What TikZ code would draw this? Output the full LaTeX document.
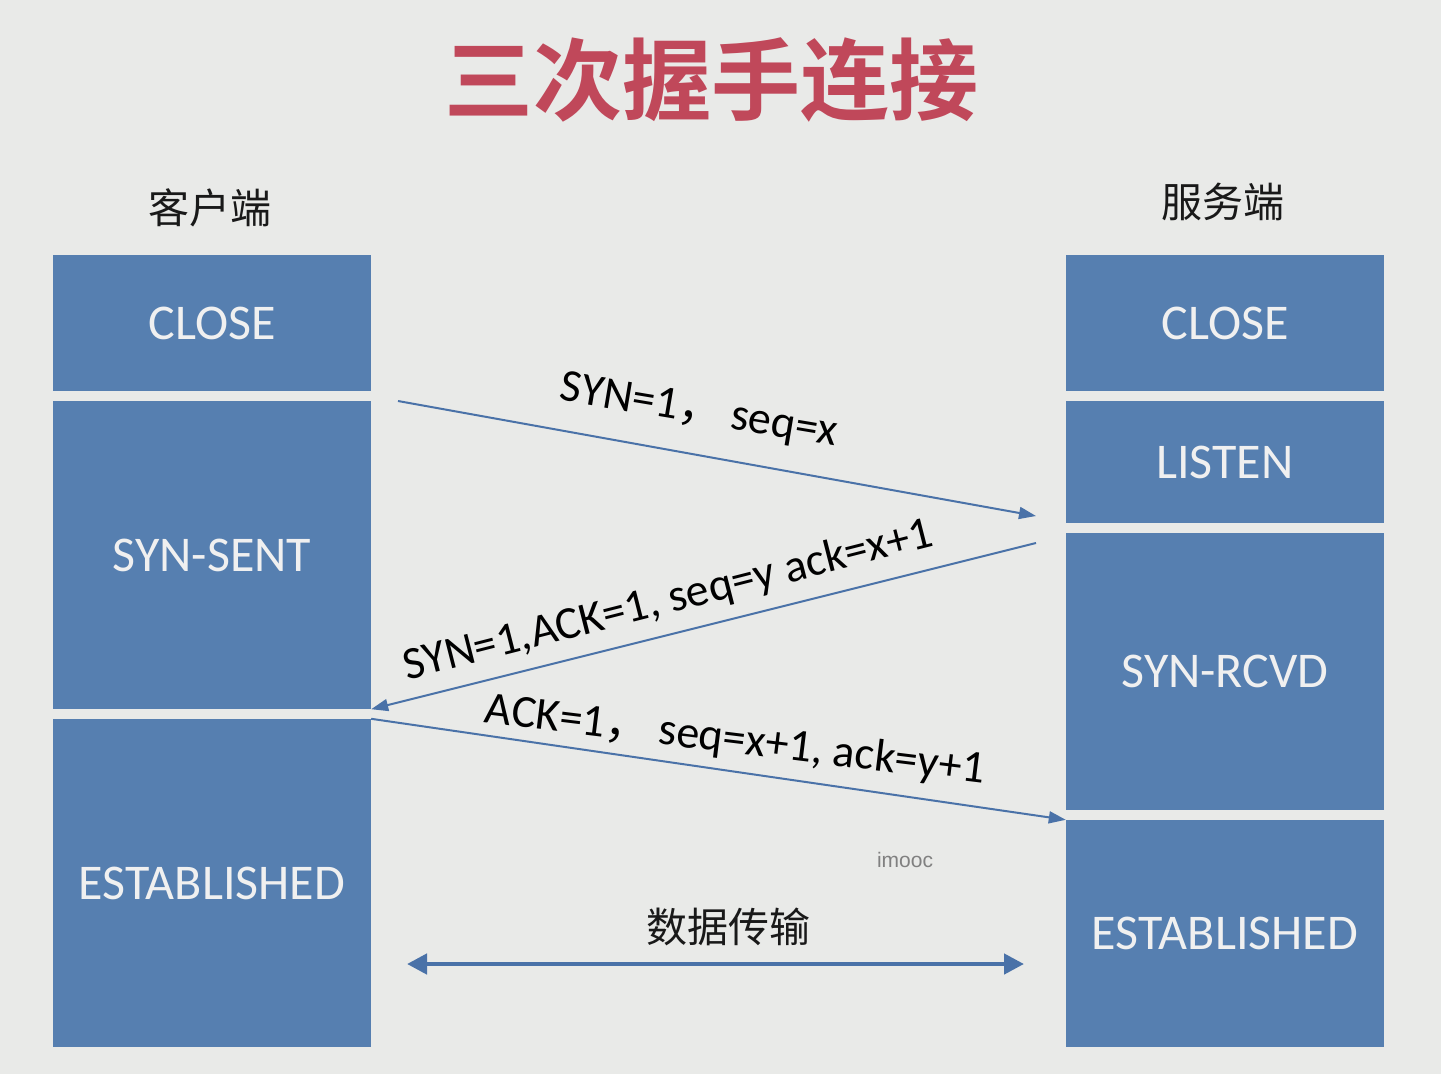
\documentclass[tikz,border=0pt]{standalone}
\usepackage{fontspec}
\setmainfont{Carlito}
\newfontfamily\cjk{Noto Sans CJK SC}
\newfontfamily\cjkbold{Noto Sans CJK SC Bold}
\newfontfamily\wm{Liberation Sans}
\usetikzlibrary{arrows.meta}
\definecolor{bg}{RGB}{233,234,232}
\definecolor{boxblue}{RGB}{86,127,176}
\definecolor{lineblue}{RGB}{74,114,168}
\definecolor{titlered}{RGB}{192,72,90}
\tikzset{
  statebox/.style={fill=boxblue, draw=none, inner sep=0pt, text=white!94!black,
    font=\fontsize{50}{56}\selectfont},
  msg/.style={draw=lineblue, line width=2pt, -{Triangle[length=17pt,width=12pt]}},
  msglabel/.style={font=\fontsize{46}{50}\selectfont, text=black, inner sep=0pt},
  sidelabel/.style={font=\cjk\fontsize{41}{46}\selectfont, text=black!90, inner sep=0pt}
}
\begin{document}
\begin{tikzpicture}[x=1pt,y=-1pt]
\fill[bg] (0,0) rectangle (1441,1074);
\useasboundingbox (0,0) rectangle (1441,1074);

\node[font=\cjkbold\fontsize{89}{96}\selectfont, text=titlered, inner sep=0pt] (title) at (711,80) {三次握手连接};

\node[sidelabel] (client) at (210,208) {客户端};
\node[sidelabel] (server) at (1223,202) {服务端};

% client boxes
\node[statebox, minimum width=318pt, minimum height=136pt] (cclose) at (212,323) {CLOSE};
\node[statebox, minimum width=318pt, minimum height=308pt] (csent) at (212,555) {SYN-SENT};
\node[statebox, minimum width=318pt, minimum height=328pt] (cest) at (212,883) {ESTABLISHED};

% server boxes
\node[statebox, minimum width=318pt, minimum height=136pt] (sclose) at (1225,323) {CLOSE};
\node[statebox, minimum width=318pt, minimum height=122pt] (slisten) at (1225,462) {LISTEN};
\node[statebox, minimum width=318pt, minimum height=277pt] (srcvd) at (1225,671.5) {SYN-RCVD};
\node[statebox, minimum width=318pt, minimum height=227pt] (sest) at (1225,933.5) {ESTABLISHED};

% connector end points
\coordinate (a1s) at (398,401);
\coordinate (a1e) at (1036,516);
\coordinate (a2s) at (1036,543);

\draw[msg] (a1s) -- (a1e);
\draw[msg] (a2s) -- (csent.south east);
\draw[msg] (cest.north east) -- (sest.north west);

\node[msglabel, rotate=-9.5] (l1) at (699,412) {SYN=1{\cjk ，}\,seq=x};
\node[msglabel, rotate=14.3] (l2) at (668,601) {SYN=1,ACK=1, seq=y ack=x+1};
\node[msglabel, rotate=-7] (l3) at (735,741) {ACK=1{\cjk ，}\,seq=x+1, ack=y+1};

% data transfer
\coordinate (dl) at (407,964);
\coordinate (dr) at (1024,964);
\draw[draw=lineblue, line width=4.5pt, {Triangle[length=20pt,width=20pt]}-{Triangle[length=20pt,width=20pt]}] (dl) -- (dr);
\node[sidelabel] (data) at (728,927) {数据传输};

\node[font=\wm\fontsize{21}{24}\selectfont, text=black!50, inner sep=0pt] (imooc) at (905,860) {imooc};
\end{tikzpicture}
\end{document}
